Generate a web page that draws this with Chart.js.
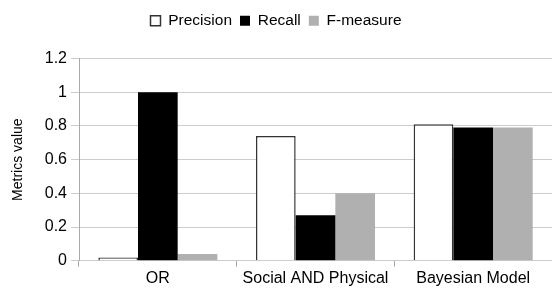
<!DOCTYPE html>
<html>
<head>
<meta charset="utf-8">
<script src="https://cdn.jsdelivr.net/npm/chart.js@4"></script>
<style>
  html, body { margin: 0; padding: 0; background: #fff; }
  #wrap { width: 552px; height: 291px; }
</style>
</head>
<body>
<div id="wrap"><canvas id="metricsChart"></canvas></div>
<script>
// Categories and metric values
const categories = ['OR', 'Social AND Physical', 'Bayesian Model'];
const precision = [0.02, 0.74, 0.81];
const recall = [1.0, 0.27, 0.79];
const fMeasure = [0.04, 0.40, 0.79];
const yTicks = [0, 0.2, 0.4, 0.6, 0.8, 1, 1.2];

const font = 'Liberation Sans, Arial, Helvetica, sans-serif';

const data = {
    labels: categories,
    datasets: [
        {
            label: 'Precision',
            data: precision,
            backgroundColor: '#ffffff',
            borderColor: '#333333',
            borderWidth: 1.5,
        },
        {
            label: 'Recall',
            data: recall,
            backgroundColor: '#000000',
            borderColor: '#000000',
            borderWidth: 0,
        },
        {
            label: 'F-measure',
            data: fMeasure,
            backgroundColor: '#b0b0b0',
            borderColor: '#b0b0b0',
            borderWidth: 0,
        },
    ],
};

// push the plot area down a bit below the legend
const legendGap = {
    id: 'legendGap',
    beforeInit(chart) {
        const fit = chart.legend.fit;
        chart.legend.fit = function () {
            fit.call(this);
            this.height += 20;
        };
    },
};

const config = {
    type: 'bar',
    data: data,
    plugins: [legendGap],
    options: {
        responsive: true,
        maintainAspectRatio: false,
        animation: false,
        layout: { padding: { top: 5, right: 0, bottom: 1, left: 0 } },
        datasets: {
            bar: { categoryPercentage: 0.755, barPercentage: 1.0 },
        },
        plugins: {
            legend: {
                position: 'top',
                labels: {
                    font: { family: font, size: 15.5 },
                    color: '#000',
                    boxWidth: 10,
                    boxHeight: 10,
                    padding: 8,
                },
            },
            tooltip: { enabled: false },
        },
        scales: {
            x: {
                offset: true,
                grid: {
                    offset: true,
                    drawOnChartArea: false,
                    drawTicks: true,
                    tickLength: 6,
                    color: '#aaaaaa',
                },
                border: { color: '#cccccc' },
                ticks: {
                    font: { family: font, size: 16 },
                    color: '#000',
                    padding: 2,
                },
            },
            y: {
                min: 0,
                max: 1.2,
                afterBuildTicks: (axis) => {
                    axis.ticks = yTicks.map((v) => ({ value: v }));
                },
                afterFit: (axis) => {
                    axis.width = 79;
                },
                grid: { color: '#cccccc', tickLength: 8 },
                border: { color: '#aaaaaa' },
                ticks: {
                    font: { family: font, size: 16 },
                    color: '#000',
                    padding: 4,
                    callback: (v) => String(Math.round(v * 10) / 10),
                },
                title: {
                    display: true,
                    text: 'Metrics value',
                    font: { family: font, size: 14 },
                    color: '#000',
                    padding: { top: 10, bottom: 0 },
                },
            },
        },
    },
};

const ctx = document.getElementById('metricsChart').getContext('2d');
new Chart(ctx, config);
</script>
</body>
</html>
